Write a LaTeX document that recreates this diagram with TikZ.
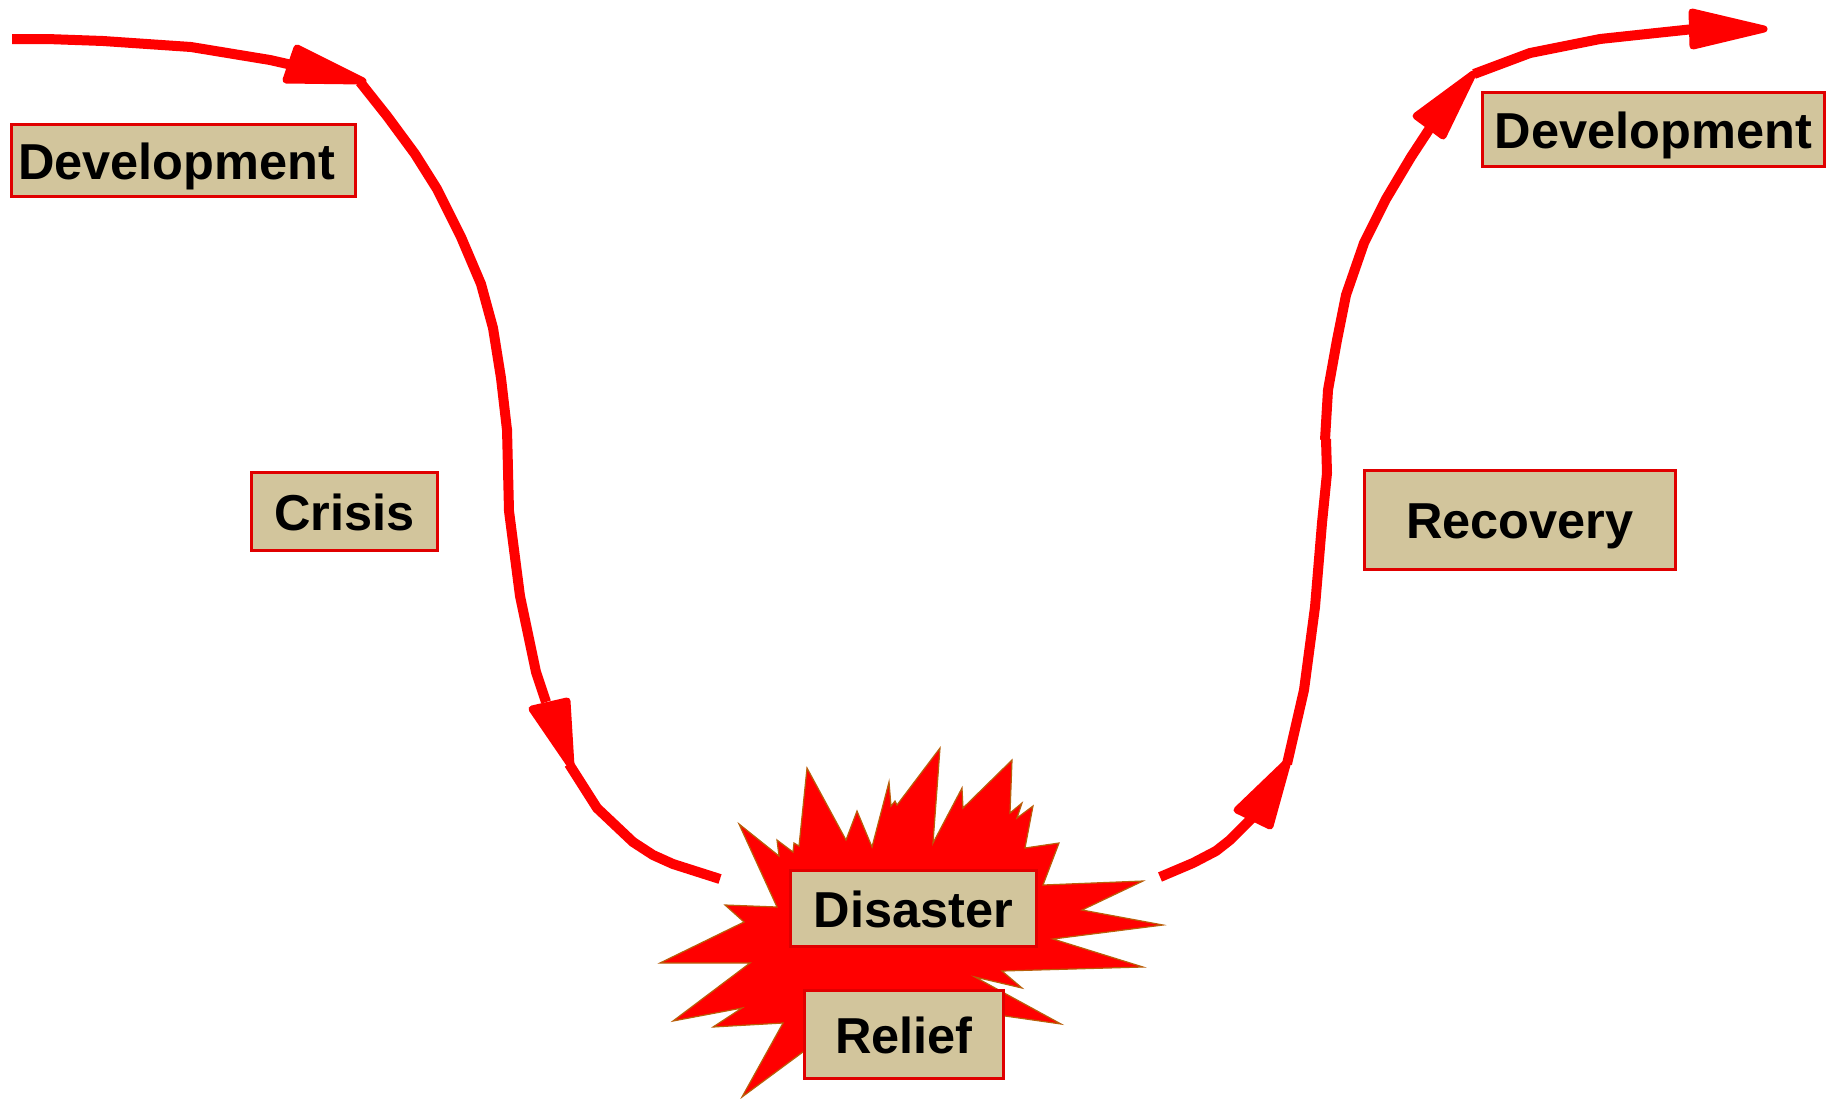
\documentclass[tikz,border=0pt]{standalone}
\usepackage{fontspec}
\setmainfont{Liberation Sans}
\definecolor{boxtan}{RGB}{210,197,156}
\definecolor{boxedge}{RGB}{224,0,0}
\definecolor{burstedge}{RGB}{185,95,10}
\begin{document}
\begin{tikzpicture}[x=1pt,y=-1pt,
  flow/.style={draw=red, line width=10pt},
  headtip/.style={fill=red, draw=red, line width=7pt, line join=round},
  burst/.style={fill=red, draw=burstedge, line width=1.2pt},
  tagbox/.style={draw=boxedge, fill=boxtan, line width=3.5pt, inner sep=0pt,
    font=\fontsize{50.5}{60}\selectfont\bfseries, text height=37pt, text depth=0pt,
    align=center}]
\useasboundingbox (0,0) rectangle (1839,1098);

% explosion behind the disaster and relief labels
\path[burst] (739,824) -- (779,856) -- (777,840) -- (793,852) -- (794,843) -- (799,846)
  -- (807,768) -- (846,840) -- (857,811) -- (872,847) -- (889,782) -- (891,806)
  -- (895,801) -- (897,805) -- (940,748) -- (933,843) -- (962,788) -- (963,808)
  -- (1012,760) -- (1010,813) -- (1022,803) -- (1017,818) -- (1033,806) -- (1025,848)
  -- (1059,843) -- (1043,885) -- (1143,881) -- (1082,910) -- (1163,925) -- (1053,939)
  -- (1143,967) -- (1002,971) -- (1022,988) -- (975,977) -- (1061,1024) -- (1005,1016)
  -- (950,1020) -- (830,1032) -- (742,1097) -- (783,1023) -- (713,1027) -- (742,1008)
  -- (673,1021) -- (750,963) -- (660,963) -- (744,922) -- (725,905) -- (777,907) -- cycle;

% labels
\node[tagbox, minimum width=344pt, minimum height=72pt, text width=331pt, align=left]
  (devL) at (183.5,160.5) {Development};
\node[tagbox, minimum width=186pt, minimum height=78pt] (crisis) at (344.5,511.5) {Crisis};
\node[tagbox, minimum width=311pt, minimum height=99pt] (recovery) at (1520,520) {Recovery};
\node[tagbox, minimum width=342pt, minimum height=74pt] (devR) at (1653.5,129.5) {Development};
\node[tagbox, minimum width=246pt, minimum height=76pt] (disaster) at (913.5,908.5) {Disaster};
\node[tagbox, minimum width=199pt, minimum height=88pt] (relief) at (904,1034.5) {Relief};

% descent: development into crisis
\draw[flow] (12,39) -- (47,39) -- (103,41) -- (191,47) -- (270,60) -- (292,65);
\filldraw[headtip] (297,48) -- (286,80) -- (363,81) -- cycle;
\draw[flow] (360,82) -- (387,116) -- (415,154) -- (437,189) -- (461,237) -- (481,284)
  -- (493,328) -- (501,378) -- (507,430);
\draw[flow] (507,429) -- (509,511) -- (520,596) -- (536,672) -- (546,702);
\filldraw[headtip] (532,709) -- (567,701) -- (571,766) -- cycle;
\draw[flow] (569,764) -- (597,808) -- (633,842) -- (653,855) -- (673,864) -- (720,879);

% ascent: recovery back to development
\draw[flow] (1160,877) -- (1193,863) -- (1216,851) -- (1230,840) -- (1252,818);
\filldraw[headtip] (1237,810) -- (1270,826) -- (1288,761) -- cycle;
\draw[flow] (1287,764) -- (1304,690) -- (1315,607) -- (1322,523) -- (1327,473) -- (1326,439);
\draw[flow] (1325,440) -- (1328,390) -- (1337,340) -- (1346,295) -- (1364,243)
  -- (1386,199) -- (1411,157) -- (1430,128);
\filldraw[headtip] (1416,116) -- (1443,136) -- (1473,74) -- cycle;
\draw[flow] (1474,74) -- (1530,53) -- (1600,39) -- (1656,33) -- (1694,29);
\filldraw[headtip] (1692,12) -- (1693,46) -- (1764,29) -- cycle;
\end{tikzpicture}
\end{document}
